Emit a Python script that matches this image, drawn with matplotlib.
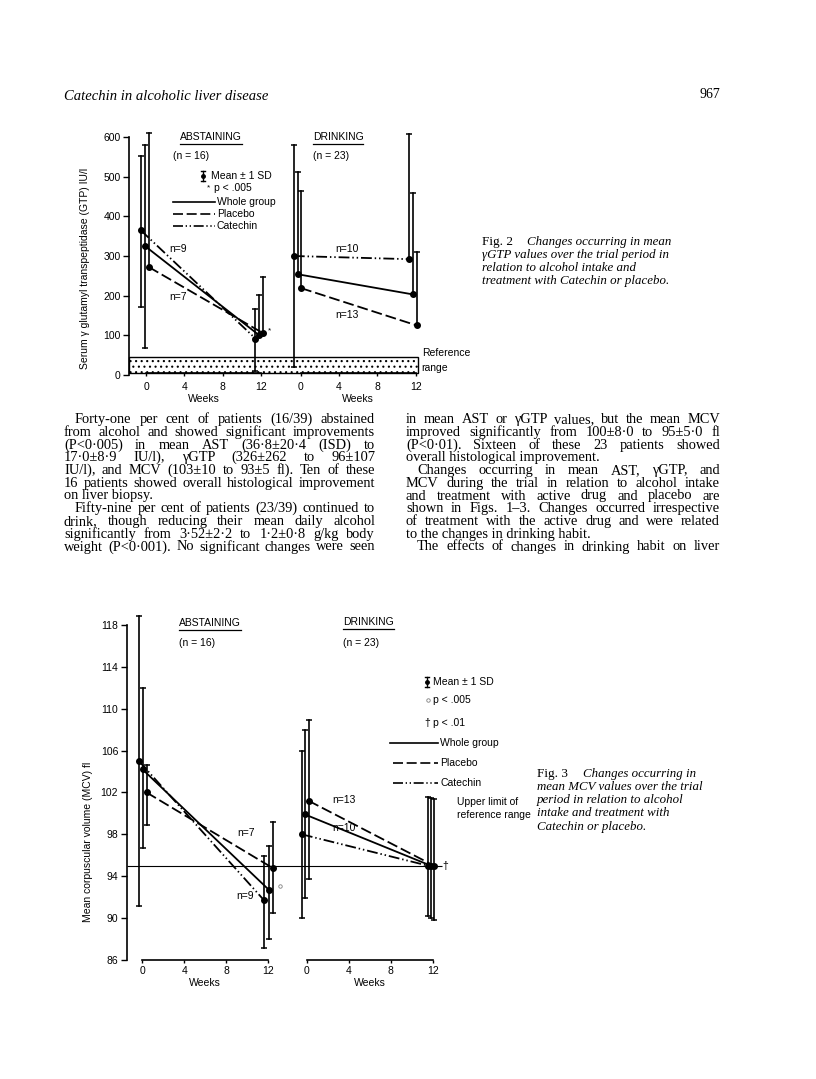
import matplotlib
matplotlib.use('Agg')
import matplotlib.pyplot as plt
from matplotlib.lines import Line2D
from matplotlib.patches import Rectangle
from matplotlib.transforms import blended_transform_factory

W, H = 816, 1079
SANS = ['Liberation Sans', 'DejaVu Sans']
SERIF = ['Liberation Serif', 'DejaVu Serif']
plt.rcParams['font.family'] = SANS
plt.rcParams['hatch.linewidth'] = 0.8

weeks = [0, 12]
week_ticks = [0, 4, 8, 12]

# Fig 2 - gamma GTP (IU/l); error bar ends as (low, high), None = not drawn
gtp_abst_whole = [326, 100]
gtp_abst_placebo = [272, 106]
gtp_abst_catechin = [365, 92]
gtp_abst_whole_err = [(69, 580), (None, 201)]
gtp_abst_placebo_err = [(None, 610), (None, 246)]
gtp_abst_catechin_err = [(172, 552), (10, 166)]

gtp_drink_whole = [254, 203]
gtp_drink_placebo = [219, 125]
gtp_drink_catechin = [300, 292]
gtp_drink_whole_err = [(None, 511), (None, 458)]
gtp_drink_placebo_err = [(None, 465), (None, 310)]
gtp_drink_catechin_err = [(21, 580), (None, 608)]

gtp_ref_range = (5, 45)
gtp_yticks = [0, 100, 200, 300, 400, 500, 600]

# Fig 3 - MCV (fl)
mcv_abst_whole = [104.2, 92.7]
mcv_abst_placebo = [102.0, 94.8]
mcv_abst_catechin = [105.0, 91.7]
mcv_abst_whole_err = [(96.7, 112.0), (88.0, 96.9)]
mcv_abst_placebo_err = [(98.9, 104.6), (90.5, 99.2)]
mcv_abst_catechin_err = [(91.2, 118.9), (87.1, 95.9)]

mcv_drink_whole = [99.9, 95.0]
mcv_drink_placebo = [101.2, 95.0]
mcv_drink_catechin = [98.0, 95.0]
mcv_drink_whole_err = [(91.9, 108.0), (90.0, 101.5)]
mcv_drink_placebo_err = [(93.7, 108.9), (89.8, 101.4)]
mcv_drink_catechin_err = [(90.0, 106.0), (90.2, 101.6)]

mcv_upper_limit = 95
mcv_yticks = [86, 90, 94, 98, 102, 106, 110, 114, 118]

# line styles
STYLE = {
    'whole': dict(ls='-'),
    'placebo': dict(dashes=(6, 2.2)),
    'catechin': dict(dashes=(6, 1.6, 0.8, 1.6, 0.8, 1.6)),
}

fig = plt.figure(figsize=(W / 100, H / 100), dpi=100)
renderer = fig.canvas.get_renderer()


def fx(x):
    return x / W


def fy(y):
    return 1 - y / H


def txt(x, y, s, size=7.5, ha='left', va='center', **kw):
    kw.setdefault('family', SANS)
    return fig.text(fx(x), fy(y), s, fontsize=size, ha=ha, va=va, **kw)


def underline(t):
    bb = t.get_window_extent(renderer)
    y = bb.y0 - 1.5
    fig.add_artist(Line2D([bb.x0 / W, bb.x1 / W], [y / H, y / H], color='k', lw=0.9))


def legend_line(x0, x1, y, style):
    fig.add_artist(Line2D([fx(x0), fx(x1)], [fy(y), fy(y)], color='k', lw=1.2, **style))


def sd_glyph(x, y):
    for xs, ys in [([x, x], [y - 5, y + 5]), ([x - 2, x + 2], [y - 5, y - 5]), ([x - 2, x + 2], [y + 5, y + 5])]:
        fig.add_artist(Line2D([fx(v) for v in xs], [fy(v) for v in ys], color='k', lw=1))
    fig.add_artist(Line2D([fx(x)], [fy(y)], marker='o', ms=2.5, color='k'))


def draw_group(ax, off, means, errs, shift, style):
    xs = [w + off + s for w, s in zip(weeks, shift)]
    ax.plot(xs, means, color='k', lw=1.3, clip_on=False, **style)
    ax.plot(xs, means, 'o', color='k', ms=4, clip_on=False)
    for x, m, (lo, hi) in zip(xs, means, errs):
        a = m if lo is None else lo
        b = m if hi is None else hi
        ax.plot([x, x], [a, b], color='k', lw=1.2, clip_on=False)
        for v in (lo, hi):
            if v is not None:
                ax.plot([x], [v], marker='_', ms=4, mew=1.1, color='k', clip_on=False)


def setup(ax, off, yticks, axis_y, weeks_y, xpad):
    for s in ('top', 'right', 'bottom'):
        ax.spines[s].set_visible(False)
    ax.spines['bottom'].set_position(('data', axis_y))
    ax.spines['left'].set_bounds(yticks[0], yticks[-1])
    ax.spines['left'].set_linewidth(1.2)
    ax.set_yticks(yticks)
    ax.set_xticks(week_ticks + [w + off for w in week_ticks])
    ax.set_xticklabels([str(w) for w in week_ticks] * 2)
    ax.tick_params(axis='y', direction='out', length=4, width=1, labelsize=7.5, pad=2)
    ax.tick_params(axis='x', direction='out', length=2, width=1, labelsize=7.5, pad=xpad)
    ax.patch.set_visible(False)
    tr = blended_transform_factory(ax.transData, fig.transFigure)
    for o in (0, off):
        ax.plot([o + weeks[0], o + weeks[-1]], [axis_y, axis_y], color='k', lw=1.2, clip_on=False)
        ax.text(o + 6, fy(weeks_y), 'Weeks', transform=tr, ha='center', va='center', fontsize=7.5)


# ---------------- Fig 2 ----------------
OFF2 = 16.1
ax2 = fig.add_axes([fx(129), fy(375), (470 - 129) / W, (375 - 137) / H])
ax2.set_xlim((129 - 146) / 9.6, (470 - 146) / 9.6)
ax2.set_ylim(0, 600)
setup(ax2, OFF2, gtp_yticks, 4, 399, 4)

x_left = ax2.get_xlim()[0]
ax2.add_patch(Rectangle((x_left, gtp_ref_range[0]), OFF2 + 12.25 - x_left,
                        gtp_ref_range[1] - gtp_ref_range[0], fill=False,
                        hatch='...', ec='k', lw=1, clip_on=False))

draw_group(ax2, 0, gtp_abst_catechin, gtp_abst_catechin_err, (-0.55, -0.6), STYLE['catechin'])
draw_group(ax2, 0, gtp_abst_whole, gtp_abst_whole_err, (-0.15, -0.2), STYLE['whole'])
draw_group(ax2, 0, gtp_abst_placebo, gtp_abst_placebo_err, (0.3, 0.15), STYLE['placebo'])
draw_group(ax2, OFF2, gtp_drink_catechin, gtp_drink_catechin_err, (-0.7, -0.67), STYLE['catechin'])
draw_group(ax2, OFF2, gtp_drink_whole, gtp_drink_whole_err, (-0.3, -0.26), STYLE['whole'])
draw_group(ax2, OFF2, gtp_drink_placebo, gtp_drink_placebo_err, (0.05, 0.1), STYLE['placebo'])
ax2.text(weeks[-1] + 0.9, gtp_abst_placebo[-1] + 4, '*', fontsize=6, ha='center', va='center')

underline(txt(180, 137.5, 'ABSTAINING'))
underline(txt(312.7, 137.5, 'DRINKING'))
txt(173.3, 156, '(n = 16)')
txt(312.7, 156, '(n = 23)')
sd_glyph(203, 175.7)
txt(210.7, 175.7, 'Mean ± 1 SD')
txt(207.3, 188.3, '*', size=6)
txt(214, 188.3, 'p < .005')
for (yy, name, lab) in [(201.7, 'whole', 'Whole group'), (214.3, 'placebo', 'Placebo'), (226, 'catechin', 'Catechin')]:
    legend_line(173.3, 215, yy, STYLE[name])
    txt(216.7, yy, lab)
txt(178, 249.3, 'n=9', ha='center')
txt(178, 296.7, 'n=7', ha='center')
txt(346.7, 249, 'n=10', ha='center')
txt(346.7, 315, 'n=13', ha='center')
txt(421.7, 353.3, 'Reference')
txt(421.7, 367.7, 'range')
txt(85, 268, 'Serum γ glutamyl transpeptidase (GTP) IU/l', rotation=90, ha='center')

# ---------------- Fig 3 ----------------
OFF3 = 15.65
ax3 = fig.add_axes([fx(126.5), fy(960), (480 - 126.5) / W, (960 - 625) / H])
ax3.set_xlim((126.5 - 142.3) / 10.5, (480 - 142.3) / 10.5)
ax3.set_ylim(86, 118)
setup(ax3, OFF3, mcv_yticks, 86, 983, 2.5)

ax3.hlines(mcv_upper_limit, ax3.get_xlim()[0], OFF3 + 12.9, color='k', lw=0.8, clip_on=False)

draw_group(ax3, 0, mcv_abst_catechin, mcv_abst_catechin_err, (-0.32, -0.4), STYLE['catechin'])
draw_group(ax3, 0, mcv_abst_whole, mcv_abst_whole_err, (0.03, 0.06), STYLE['whole'])
draw_group(ax3, 0, mcv_abst_placebo, mcv_abst_placebo_err, (0.41, 0.4), STYLE['placebo'])
draw_group(ax3, OFF3, mcv_drink_catechin, mcv_drink_catechin_err, (-0.45, -0.4), STYLE['catechin'])
draw_group(ax3, OFF3, mcv_drink_whole, mcv_drink_whole_err, (-0.15, -0.15), STYLE['whole'])
draw_group(ax3, OFF3, mcv_drink_placebo, mcv_drink_placebo_err, (0.2, 0.15), STYLE['placebo'])
ax3.plot([weeks[-1] + 1.1], [mcv_abst_whole[-1] + 0.4], 'o', ms=2.5, mfc='white', mec='0.5', mew=0.6, clip_on=False)
ax3.text(OFF3 + weeks[-1] + 1.2, mcv_upper_limit, '†', fontsize=7.5, ha='center', va='center')

underline(txt(178.7, 623, 'ABSTAINING'))
underline(txt(343.3, 622, 'DRINKING'))
txt(178.7, 643, '(n = 16)')
txt(343.3, 643, '(n = 23)')
sd_glyph(426.7, 681.7)
txt(433.3, 681.7, 'Mean ± 1 SD')
fig.add_artist(Line2D([fx(428.3)], [fy(700)], marker='o', ms=2.5, mfc='white', mec='0.5', mew=0.6))
txt(433.3, 700, 'p < .005')
txt(427.3, 722.7, '†', ha='center')
txt(433.3, 722.7, 'p < .01')
for (yy, x0, name, lab) in [(743.3, 390, 'whole', 'Whole group'), (763.3, 392.7, 'placebo', 'Placebo'),
                            (782.7, 392.7, 'catechin', 'Catechin')]:
    legend_line(x0, 438.3, yy, STYLE[name])
    txt(440.5, yy, lab)
txt(246, 833, 'n=7', ha='center')
txt(245, 896, 'n=9', ha='center')
txt(344, 800, 'n=13', ha='center')
txt(344, 828, 'n=10', ha='center')
txt(456.7, 802.3, 'Upper limit of')
txt(456.7, 815, 'reference range')
txt(88, 842, 'Mean corpuscular volume (MCV) fl', rotation=90, ha='center')

# ---------------- page text ----------------
txt(64, 96, 'Catechin in alcoholic liver disease', size=10.5, family=SERIF, style='italic')
txt(720, 95, '967', size=10, family=SERIF, ha='right')


def caption(x, y, fig_label, x_first, lines):
    txt(x, y, fig_label, size=9.5, family=SERIF, va='baseline')
    txt(x_first, y, lines[0], size=9.3, family=SERIF, style='italic', va='baseline')
    for i, s in enumerate(lines[1:]):
        txt(x, y + 13.3 * (i + 1), s, size=9.3, family=SERIF, style='italic', va='baseline')


caption(481.7, 244.5, 'Fig. 2', 526.7, ['Changes occurring in mean', 'γGTP values over the trial period in',
                                        'relation to alcohol intake and', 'treatment with Catechin or placebo.'])
caption(536.7, 776.5, 'Fig. 3', 582.7, ['Changes occurring in', 'mean MCV values over the trial',
                                        'period in relation to alcohol', 'intake and treatment with',
                                        'Catechin or placebo.'])

BODY_SIZE = 10.4


def body(lines, x0, x1, y0, dy):
    for i, (s, indent, just) in enumerate(lines):
        y = y0 + i * dy
        xs = x0 + (11 if indent else 0)
        words = s.split()
        if not just:
            txt(xs, y, s, size=BODY_SIZE, family=SERIF, va='baseline')
            continue
        widths = []
        for w in words:
            t = txt(0, 0, w, size=BODY_SIZE, family=SERIF, va='baseline')
            widths.append(t.get_window_extent(renderer).width)
            t.remove()
        gap = (x1 - xs - sum(widths)) / (len(words) - 1)
        x = xs
        for w, wd in zip(words, widths):
            txt(x, y, w, size=BODY_SIZE, family=SERIF, va='baseline')
            x += wd + gap


left_col = [
    ('Forty-one per cent of patients (16/39) abstained', True, True),
    ('from alcohol and showed significant improvements', False, True),
    ('(P<0·005) in mean AST (36·8±20·4 (ISD) to', False, True),
    ('17·0±8·9 IU/l), γGTP (326±262 to 96±107', False, True),
    ('IU/l), and MCV (103±10 to 93±5 fl). Ten of these', False, True),
    ('16 patients showed overall histological improvement', False, True),
    ('on liver biopsy.', False, False),
    ('Fifty-nine per cent of patients (23/39) continued to', True, True),
    ('drink, though reducing their mean daily alcohol', False, True),
    ('significantly from 3·52±2·2 to 1·2±0·8 g/kg body', False, True),
    ('weight (P<0·001). No significant changes were seen', False, True),
]
right_col = [
    ('in mean AST or γGTP values, but the mean MCV', False, True),
    ('improved significantly from 100±8·0 to 95±5·0 fl', False, True),
    ('(P<0·01). Sixteen of these 23 patients showed', False, True),
    ('overall histological improvement.', False, False),
    ('Changes occurring in mean AST, γGTP, and', True, True),
    ('MCV during the trial in relation to alcohol intake', False, True),
    ('and treatment with active drug and placebo are', False, True),
    ('shown in Figs. 1–3. Changes occurred irrespective', False, True),
    ('of treatment with the active drug and were related', False, True),
    ('to the changes in drinking habit.', False, False),
    ('The effects of changes in drinking habit on liver', True, True),
]
body(left_col, 64, 375, 423, 12.75)
body(right_col, 406, 720, 423, 12.75)

fig.savefig('out.png', dpi=100)
